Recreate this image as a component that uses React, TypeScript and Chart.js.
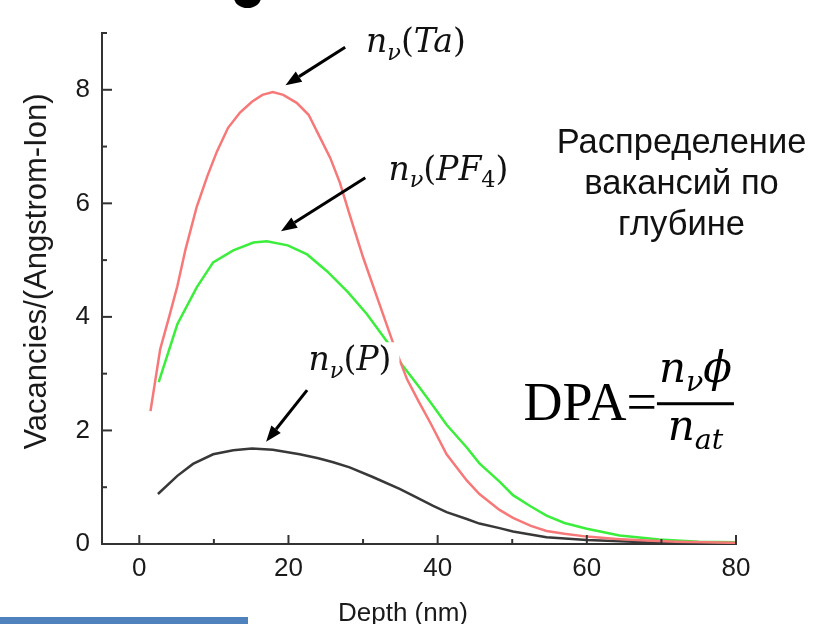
import React, { useEffect, useRef } from 'react';
import { Chart, registerables } from 'chart.js';

Chart.register(...registerables);

// ---------- data ----------
const taDepth = [1.5, 2.8, 4.0, 5.1, 6.2, 7.7, 9.1, 10.4, 11.9, 13.5, 15.1, 16.5, 17.9, 19.3, 21.1, 22.7, 24.0, 25.6, 26.9, 28.2, 30.0, 32.0, 34.0, 35.9, 37.5, 39.0, 41.2, 43.9, 45.6, 48.3, 50.1, 52.5, 54.6, 57.0, 60.0, 64.0, 68.0, 72.0, 76.0, 80.0];
const taValues = [2.34, 3.43, 4.0, 4.54, 5.19, 5.94, 6.47, 6.91, 7.33, 7.6, 7.79, 7.91, 7.96, 7.91, 7.77, 7.56, 7.22, 6.8, 6.36, 5.8, 5.05, 4.3, 3.55, 2.9, 2.5, 2.14, 1.58, 1.12, 0.88, 0.6, 0.46, 0.32, 0.23, 0.18, 0.13, 0.09, 0.06, 0.04, 0.03, 0.02];

const pf4Depth = [2.6, 5.1, 7.7, 9.9, 12.6, 15.3, 17.1, 19.9, 22.5, 25.2, 28.0, 30.5, 33.3, 35.2, 37.6, 39.4, 41.2, 43.9, 45.6, 48.3, 50.1, 52.5, 54.6, 57.0, 60.0, 64.4, 69.7, 75.0, 80.0];
const pf4Values = [2.85, 3.87, 4.52, 4.96, 5.17, 5.31, 5.33, 5.26, 5.1, 4.8, 4.43, 4.05, 3.55, 3.16, 2.75, 2.43, 2.1, 1.7, 1.42, 1.1, 0.86, 0.66, 0.5, 0.37, 0.27, 0.15, 0.08, 0.04, 0.03];

const pDepth = [2.5, 5.1, 7.2, 9.9, 12.6, 15.1, 17.9, 21.5, 24.0, 26.0, 28.2, 31.3, 34.9, 36.7, 39.4, 41.2, 43.9, 45.6, 48.3, 50.1, 54.6, 60.0, 68.0, 74.0, 80.0];
const pValues = [0.88, 1.2, 1.41, 1.58, 1.65, 1.68, 1.66, 1.58, 1.51, 1.44, 1.35, 1.18, 0.97, 0.85, 0.67, 0.56, 0.44, 0.36, 0.28, 0.22, 0.12, 0.07, 0.03, 0.02, 0.01];

const xTickValues = [0, 10, 20, 30, 40, 50, 60, 70, 80];
const xLabeledTicks = [0, 20, 40, 60, 80];
const yTickValues = [0, 1, 2, 3, 4, 5, 6, 7, 8, 9];
const yLabeledTicks = [0, 2, 4, 6, 8];

const xTitle = 'Depth (nm)';
const yTitle = 'Vacancies/(Angstrom-Ion)';
const captionLines = ['Распределение', 'вакансий по', 'глубине'];

// ---------- styles ----------
const X_MIN = -5, X_MAX = 80, Y_MIN = 0, Y_MAX = 9;
const SANS = '"Liberation Sans", Arial, Helvetica, sans-serif';
const MATH = '"DejaVu Serif", serif';
const TIMES = '"Liberation Serif", "Times New Roman", serif';
const AXIS_COLOR = '#333333';
const TEXT_COLOR = '#1a1a1a';
const TA_COLOR = '#f77878';
const PF4_COLOR = '#3cee3c';
const P_COLOR = '#383838';

type Run = { t: string; it: boolean; sub?: boolean };

const labelTa: Run[] = [{ t: 'n', it: true }, { t: 'ν', it: true, sub: true }, { t: '(', it: false }, { t: 'Ta', it: true }, { t: ')', it: false }];
const labelPF4: Run[] = [{ t: 'n', it: true }, { t: 'ν', it: true, sub: true }, { t: '(', it: false }, { t: 'PF', it: true }, { t: '4', it: false, sub: true }, { t: ')', it: false }];
const labelP: Run[] = [{ t: 'n', it: true }, { t: 'ν', it: true, sub: true }, { t: '(', it: false }, { t: 'P', it: true }, { t: ')', it: false }];
const numeratorRuns: Run[] = [{ t: 'n', it: true }, { t: 'ν', it: true, sub: true }, { t: 'ϕ', it: true }];
const denominatorRuns: Run[] = [{ t: 'n', it: true }, { t: 'at', it: true, sub: true }];

// annotation anchors in data units (depth, value)
const LABEL_ANCHORS = [
  { runs: labelTa, at: [30.4, 8.66], box: false },
  { runs: labelPF4, at: [33.4, 6.41], box: false },
  { runs: labelP, at: [22.7, 3.06], box: true },
];
const ARROW_ANCHORS = [
  { from: [27.6, 8.75], to: [19.6, 8.08] },
  { from: [30.3, 6.45], to: [19.0, 5.51] },
  { from: [22.5, 2.71], to: [17.0, 1.8] },
];
const CAPTION_ANCHOR = [72.7, 6.89];
const FORMULA_ANCHOR = [51.5, 2.18];

function runsWidth(ctx: CanvasRenderingContext2D, runs: Run[], size: number) {
  let w = 0;
  for (const r of runs) {
    const s = r.sub ? size * 0.68 : size;
    ctx.font = `${r.it ? 'italic ' : ''}${s}px ${MATH}`;
    w += ctx.measureText(r.t).width;
  }
  return w;
}

function drawRuns(ctx: CanvasRenderingContext2D, x: number, y: number, runs: Run[], size: number) {
  let cx = x;
  ctx.textAlign = 'left';
  ctx.textBaseline = 'alphabetic';
  for (const r of runs) {
    const s = r.sub ? size * 0.68 : size;
    ctx.font = `${r.it ? 'italic ' : ''}${s}px ${MATH}`;
    ctx.fillText(r.t, cx, y + (r.sub ? size * 0.22 : 0));
    cx += ctx.measureText(r.t).width;
  }
  return cx;
}

function drawArrow(ctx: CanvasRenderingContext2D, x1: number, y1: number, x2: number, y2: number) {
  const ang = Math.atan2(y2 - y1, x2 - x1);
  const head = 16, half = 6;
  const bx = x2 - head * Math.cos(ang), by = y2 - head * Math.sin(ang);
  ctx.lineWidth = 3;
  ctx.beginPath();
  ctx.moveTo(x1, y1);
  ctx.lineTo(bx, by);
  ctx.stroke();
  ctx.beginPath();
  ctx.moveTo(x2, y2);
  ctx.lineTo(bx + half * Math.sin(ang), by - half * Math.cos(ang));
  ctx.lineTo(bx - half * Math.sin(ang), by + half * Math.cos(ang));
  ctx.closePath();
  ctx.fill();
}

const overlayPlugin = {
  id: 'overlay',
  afterDatasetsDraw(chart: any) {
    const { ctx, chartArea, scales } = chart;
    const xs = scales.x, ys = scales.y;
    ctx.save();

    // inward tick marks
    ctx.strokeStyle = AXIS_COLOR;
    ctx.lineWidth = 2;
    for (const v of xTickValues) {
      const px = xs.getPixelForValue(v);
      const len = xLabeledTicks.includes(v) ? 9 : 5;
      ctx.beginPath();
      ctx.moveTo(px, chartArea.bottom);
      ctx.lineTo(px, chartArea.bottom - len);
      ctx.stroke();
    }
    for (const v of yTickValues) {
      const py = ys.getPixelForValue(v);
      const len = yLabeledTicks.includes(v) ? 10 : 5;
      ctx.beginPath();
      ctx.moveTo(chartArea.left, py);
      ctx.lineTo(chartArea.left + len, py);
      ctx.stroke();
    }

    // axis titles
    ctx.fillStyle = TEXT_COLOR;
    ctx.font = `26px ${SANS}`;
    ctx.textAlign = 'center';
    ctx.textBaseline = 'alphabetic';
    ctx.fillText(xTitle, (chartArea.left + chartArea.right) / 2 - 16, 621);
    ctx.save();
    ctx.translate(46, (chartArea.top + chartArea.bottom) / 2 - 17);
    ctx.rotate(-Math.PI / 2);
    ctx.font = `31px ${SANS}`;
    ctx.fillText(yTitle, 0, 0);
    ctx.restore();

    // series labels
    const LS = 33;
    for (const a of LABEL_ANCHORS) {
      const x = xs.getPixelForValue(a.at[0]);
      const y = ys.getPixelForValue(a.at[1]);
      if (a.box) {
        const w = runsWidth(ctx, a.runs, LS);
        ctx.fillStyle = '#ffffff';
        ctx.fillRect(x - 6, y - 28, w + 14, 42);
      }
      ctx.fillStyle = '#111';
      drawRuns(ctx, x, y, a.runs, LS);
    }
    ctx.fillStyle = '#000';
    ctx.strokeStyle = '#000';
    for (const a of ARROW_ANCHORS) {
      drawArrow(ctx, xs.getPixelForValue(a.from[0]), ys.getPixelForValue(a.from[1]), xs.getPixelForValue(a.to[0]), ys.getPixelForValue(a.to[1]));
    }

    // caption
    ctx.fillStyle = '#111';
    ctx.font = `34.5px ${SANS}`;
    ctx.textAlign = 'center';
    ctx.textBaseline = 'alphabetic';
    const cx = xs.getPixelForValue(CAPTION_ANCHOR[0]);
    const cy = ys.getPixelForValue(CAPTION_ANCHOR[1]);
    captionLines.forEach((line, i) => ctx.fillText(line, cx, cy + i * 41));

    // DPA formula
    const fx = xs.getPixelForValue(FORMULA_ANCHOR[0]);
    const fy = ys.getPixelForValue(FORMULA_ANCHOR[1]);
    ctx.font = `54px ${TIMES}`;
    ctx.textAlign = 'left';
    ctx.fillStyle = '#000';
    ctx.fillText('DPA=', fx, fy);
    const barLeft = fx + ctx.measureText('DPA=').width;
    const barW = 77;
    ctx.fillRect(barLeft, fy - 18, barW, 3);
    const FS = 42;
    const nw = runsWidth(ctx, numeratorRuns, FS);
    drawRuns(ctx, barLeft + (barW - nw) / 2, fy - 38, numeratorRuns, FS);
    const dw = runsWidth(ctx, denominatorRuns, FS);
    drawRuns(ctx, barLeft + (barW - dw) / 2, fy + 20, denominatorRuns, FS);

    ctx.restore();
  },
};

export default function App() {
  const ref = useRef<HTMLCanvasElement>(null);
  useEffect(() => {
    document.body.style.margin = '0';
    const toPoints = (xs: number[], ys: number[]) => xs.map((x, i) => ({ x, y: ys[i] }));
    const chart = new Chart(ref.current!, {
      type: 'line',
      data: {
        datasets: [
          { label: 'nν(Ta)', data: toPoints(taDepth, taValues), borderColor: TA_COLOR, borderWidth: 2.5, pointRadius: 0, tension: 0, fill: false },
          { label: 'nν(PF4)', data: toPoints(pf4Depth, pf4Values), borderColor: PF4_COLOR, borderWidth: 2.5, pointRadius: 0, tension: 0, fill: false },
          { label: 'nν(P)', data: toPoints(pDepth, pValues), borderColor: P_COLOR, borderWidth: 2.5, pointRadius: 0, tension: 0, fill: false },
        ],
      },
      options: {
        responsive: false,
        animation: false,
        layout: { padding: { left: 0, top: 33, right: 86, bottom: 0 } },
        plugins: { legend: { display: false }, tooltip: { enabled: false }, title: { display: false } },
        scales: {
          x: {
            type: 'linear',
            min: X_MIN,
            max: X_MAX,
            afterBuildTicks: (s: any) => { s.ticks = xTickValues.map((v) => ({ value: v })); },
            afterFit: (s: any) => { s.height = 80; },
            ticks: {
              autoSkip: false,
              maxRotation: 0,
              padding: 9,
              color: TEXT_COLOR,
              font: { family: SANS, size: 26 },
              callback: (v: any) => (xLabeledTicks.includes(Number(v)) ? String(v) : ''),
            },
            grid: { display: false, drawTicks: false },
            border: { display: true, color: AXIS_COLOR, width: 2 },
          },
          y: {
            type: 'linear',
            min: Y_MIN,
            max: Y_MAX,
            afterBuildTicks: (s: any) => { s.ticks = yTickValues.map((v) => ({ value: v })); },
            afterFit: (s: any) => { s.width = 102; },
            ticks: {
              autoSkip: false,
              padding: 12,
              color: TEXT_COLOR,
              font: { family: SANS, size: 26 },
              callback: (v: any) => (yLabeledTicks.includes(Number(v)) ? String(v) : ''),
            },
            grid: { display: false, drawTicks: false },
            border: { display: true, color: AXIS_COLOR, width: 2 },
          },
        },
      },
      plugins: [overlayPlugin],
    } as any);
    return () => chart.destroy();
  }, []);

  return (
    <div style={{ position: 'relative', width: 822, height: 624, overflow: 'hidden', background: '#fff' }}>
      <canvas ref={ref} width={822} height={624} style={{ display: 'block' }} />
      <div style={{ position: 'absolute', left: 0, top: 617, width: 248, height: 7, background: '#4f81bd' }} />
      <div style={{ position: 'absolute', left: 234, top: -13, width: 27, height: 21, borderRadius: '50%', background: '#000' }} />
    </div>
  );
}
